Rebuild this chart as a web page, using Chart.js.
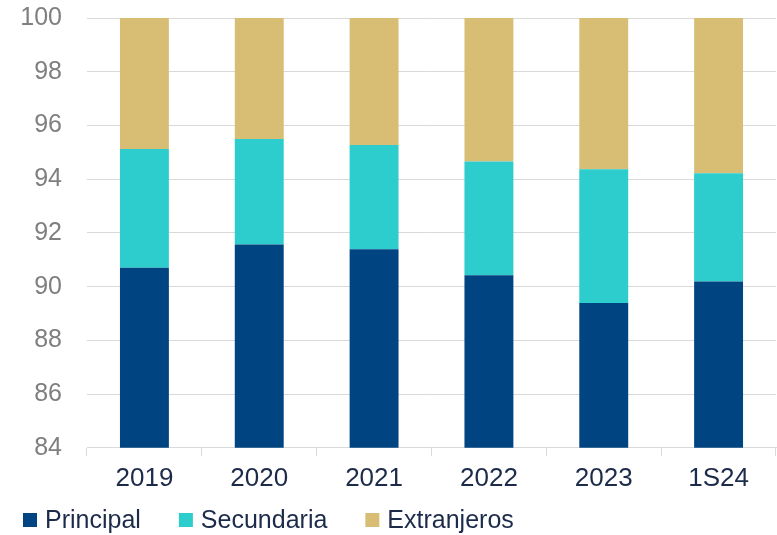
<!DOCTYPE html>
<html>
<head>
<meta charset="utf-8">
<script src="https://cdn.jsdelivr.net/npm/chart.js@4"></script>
<style>
  html, body { margin: 0; padding: 0; background: #fff; }
  #wrap { width: 777px; height: 535px; position: relative; }
</style>
</head>
<body>
<div id="wrap"><canvas id="chart"></canvas></div>
<script>
// Datos por año (participación, %)
const categories = ["2019", "2020", "2021", "2022", "2023", "1S24"];
const principal = [90.70, 91.57, 91.39, 90.42, 89.39, 90.19];
const secundaria = [4.42, 3.93, 3.88, 4.24, 4.98, 4.03];
const extranjeros = [4.88, 4.50, 4.73, 5.34, 5.63, 5.78];
const seriesNames = ["Principal", "Secundaria", "Extranjeros"];
const seriesColors = ["#004481", "#2dcccd", "#d8be75"];
const yTicks = [84, 86, 88, 90, 92, 94, 96, 98, 100];

const FONT = '"Liberation Sans", Arial, sans-serif';
const textDark = '#1c2b4a';

// leyenda propia: cuadrado + texto, alineada a la izquierda bajo el eje
const bottomLegend = {
  id: 'bottomLegend',
  afterDraw(chart) {
    const ctx = chart.ctx;
    const cy = 520;
    let x = 23;
    ctx.save();
    ctx.font = '25px ' + FONT;
    ctx.textBaseline = 'middle';
    chart.data.datasets.forEach(ds => {
      ctx.fillStyle = ds.backgroundColor;
      ctx.fillRect(x, cy - 7, 14, 14);
      ctx.fillStyle = textDark;
      ctx.fillText(ds.label, x + 22, cy + 1);
      x += 22 + ctx.measureText(ds.label).width + 38;
    });
    ctx.restore();
  }
};

const seriesData = [principal, secundaria, extranjeros];

new Chart(document.getElementById('chart'), {
  type: 'bar',
  data: {
    labels: categories,
    datasets: seriesNames.map((name, i) => ({
      label: name,
      data: seriesData[i],
      backgroundColor: seriesColors[i],
      borderWidth: 0,
      categoryPercentage: 1,
      barPercentage: 0.426
    }))
  },
  options: {
    responsive: true,
    maintainAspectRatio: false,
    animation: false,
    layout: { padding: { left: 0, right: 1, top: 0, bottom: 34 } },
    plugins: {
      legend: { display: false },
      tooltip: { enabled: false }
    },
    scales: {
      x: {
        stacked: true,
        grid: {
          offset: true,
          drawOnChartArea: false,
          tickLength: 8,
          color: '#d9d9d9'
        },
        border: { color: '#d9d9d9' },
        ticks: {
          color: textDark,
          font: { family: FONT, size: 26 },
          padding: 7
        }
      },
      y: {
        stacked: true,
        min: 84,
        max: 100,
        afterBuildTicks(scale) {
          scale.ticks = yTicks.map(v => ({ value: v }));
        },
        afterFit(scale) {
          // ancho fijo del eje y sin el relleno vertical extra de ticks.padding
          scale.width = 87;
          scale.paddingTop = 18;
          scale.paddingBottom = 14;
        },
        grid: {
          color: '#d9d9d9',
          drawTicks: false
        },
        border: { display: false },
        ticks: {
          color: '#7f7f7f',
          font: { family: FONT, size: 25 },
          padding: 25
        }
      }
    }
  },
  plugins: [bottomLegend]
});
</script>
</body>
</html>
